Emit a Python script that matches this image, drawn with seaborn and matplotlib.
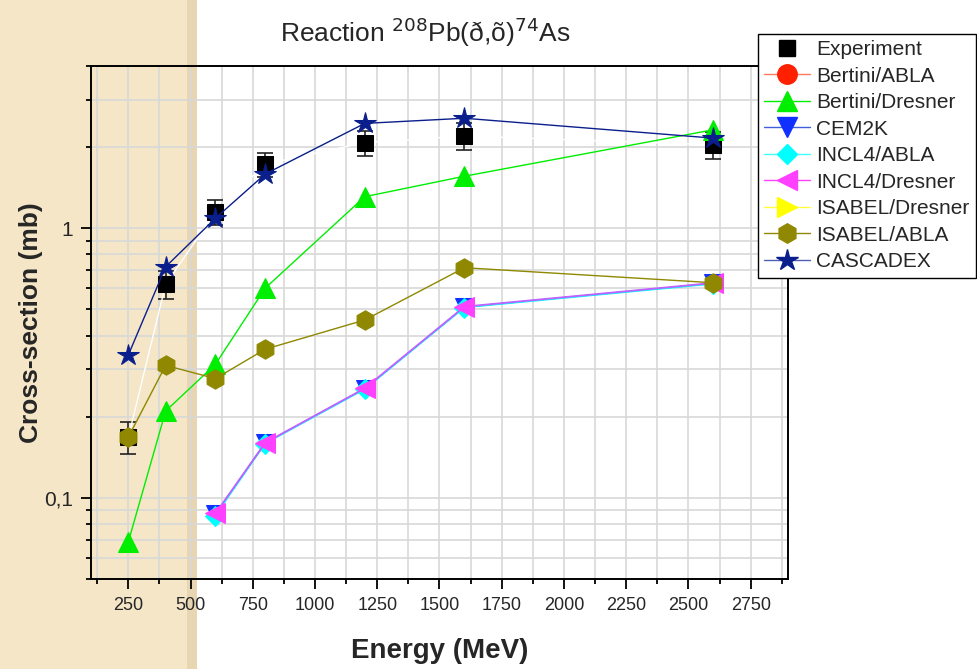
import numpy as np
import pandas as pd
import matplotlib
matplotlib.use("Agg")
import matplotlib.pyplot as plt
import seaborn as sns
from matplotlib.lines import Line2D
from matplotlib.patches import Rectangle
from matplotlib.ticker import FixedLocator, NullFormatter, FuncFormatter

# ---------------- data ----------------
energy = [250, 400, 600, 800, 1200, 1600, 2600]
exp_val = [0.168, 0.62, 1.15, 1.73, 2.08, 2.20, 2.04]
exp_err = [0.023, 0.074, 0.12, 0.18, 0.22, 0.25, 0.24]
cascadex = [0.339, 0.72, 1.09, 1.59, 2.45, 2.56, 2.16]
bertini_dresner = [0.0687, 0.21, 0.313, 0.60, 1.31, 1.56, 2.32]
isabel_abla = [0.168, 0.31, 0.277, 0.356, 0.457, 0.714, 0.628]

energy_hi = [600, 800, 1200, 1600, 2600]
cem2k = [0.087, 0.160, 0.254, 0.510, 0.625]
incl4_abla = [0.086, 0.159, 0.253, 0.508, 0.622]
incl4_dresner = [0.0875, 0.160, 0.255, 0.512, 0.627]

x_ticks = [250, 500, 750, 1000, 1250, 1500, 1750, 2000, 2250, 2500, 2750]
y_ticks = [0.1, 1]
y_tick_labels = ["0,1", "1"]

legend_labels = ["Experiment", "Bertini/ABLA", "Bertini/Dresner", "CEM2K",
                 "INCL4/ABLA", "INCL4/Dresner", "ISABEL/Dresner",
                 "ISABEL/ABLA", "CASCADEX"]

# ---------------- style ----------------
sns.set_style("white")
plt.rcParams["font.family"] = ["Liberation Sans", "DejaVu Sans"]

fig = plt.figure(figsize=(9.78, 6.69), dpi=100, facecolor="white")

# left tan background strip (slide background)
fig.patches.append(Rectangle((0, 0), 187 / 978, 1, transform=fig.transFigure,
                             facecolor="#f5e6c8", edgecolor="none", zorder=-10))
fig.patches.append(Rectangle((187 / 978, 0), 10 / 978, 1, transform=fig.transFigure,
                             facecolor="#e8d6b3", edgecolor="none", zorder=-10))

ax = fig.add_axes([91 / 978, 1 - 579 / 669, (788 - 91) / 978, (579 - 66) / 669])
ax.set_facecolor("none")

ax.set_yscale("log")
ax.set_xlim(100, 2900)
ax.set_ylim(0.05, 4)

# grid
minor_y = [v * 10.0 ** d for d in (-2, -1, 0) for v in range(2, 10)]
minor_y = [v for v in minor_y if 0.05 <= v <= 4]
ax.xaxis.set_major_locator(FixedLocator(x_ticks))
ax.xaxis.set_minor_locator(FixedLocator([125 + 250 * k for k in range(12)]))
ax.yaxis.set_major_locator(FixedLocator(y_ticks))
ax.yaxis.set_minor_locator(FixedLocator(minor_y))
ax.yaxis.set_major_formatter(FuncFormatter(lambda v, p: y_tick_labels[y_ticks.index(v)] if v in y_ticks else ""))
ax.yaxis.set_minor_formatter(NullFormatter())
ax.grid(True, which="both", color="#d8d8d8", linewidth=1.2, zorder=0)
ax.set_axisbelow(True)

for s in ax.spines.values():
    s.set_color("black")
    s.set_linewidth(1.4)

ax.tick_params(axis="both", which="major", direction="out", length=7, width=1.3,
               color="black", pad=6)
ax.tick_params(axis="both", which="minor", direction="out", length=3.5, width=1.3,
               color="black")
ax.tick_params(axis="x", which="both", bottom=True, top=False, labelsize=13)
ax.tick_params(axis="y", which="both", left=True, right=False, labelsize=15)

# ---------------- series ----------------
df_exp = pd.DataFrame({"E": energy, "v": exp_val})
ax.errorbar(energy, exp_val, yerr=exp_err, fmt="none", ecolor="#222222",
            elinewidth=1.2, capsize=6, capthick=1.2, zorder=3)
sns.lineplot(data=df_exp, x="E", y="v", ax=ax, color="white", linewidth=1.0,
             marker="s", markersize=11, markerfacecolor="black",
             markeredgecolor="black", zorder=4)

sns.lineplot(x=energy, y=bertini_dresner, ax=ax, color="#00ee00", linewidth=1.0,
             marker="^", markersize=14, markerfacecolor="#00ee00",
             markeredgecolor="#00ee00", zorder=5)
sns.lineplot(x=energy_hi, y=cem2k, ax=ax, color="#2040ff", linewidth=1.0,
             marker="v", markersize=13, markerfacecolor="#1030ff",
             markeredgecolor="#1030ff", zorder=6)
sns.lineplot(x=energy_hi, y=incl4_abla, ax=ax, color="#00ffff", linewidth=1.0,
             marker="D", markersize=10, markerfacecolor="#00ffff",
             markeredgecolor="#00ffff", zorder=7)
sns.lineplot(x=energy_hi, y=incl4_dresner, ax=ax, color="#c060ff", linewidth=1.3,
             marker="<", markersize=14, markerfacecolor="#ff40ff",
             markeredgecolor="#ff40ff", zorder=8)
sns.lineplot(x=energy, y=isabel_abla, ax=ax, color="#8f8800", linewidth=1.0,
             marker="h", markersize=14, markerfacecolor="#8f8800",
             markeredgecolor="#8f8800", zorder=9)
sns.lineplot(x=energy, y=cascadex, ax=ax, color="#0a1e8c", linewidth=1.0,
             marker="*", markersize=16, markerfacecolor="#0a1e8c",
             markeredgecolor="#0a1e8c", zorder=10)

ax.set_xlabel("Energy (MeV)", fontsize=20, fontweight="bold", labelpad=17)
ax.set_ylabel("Cross-section (mb)", fontsize=19, fontweight="bold", labelpad=1)

fig.text(425 / 978, 1 - 32 / 669, r"Reaction $^{208}$Pb(ð,õ)$^{74}$As",
         ha="center", va="center", fontsize=19)

# ---------------- legend ----------------
handles = [
    Line2D([], [], linestyle="none", marker="s", markersize=11, color="black"),
    Line2D([], [], color="#ff7a5a", lw=1.0, marker="o", markersize=14,
           markerfacecolor="#ff2000", markeredgecolor="#ff2000"),
    Line2D([], [], color="#00ee00", lw=1.0, marker="^", markersize=14,
           markerfacecolor="#00ee00", markeredgecolor="#00ee00"),
    Line2D([], [], color="#4060e0", lw=1.0, marker="v", markersize=14,
           markerfacecolor="#1030ff", markeredgecolor="#1030ff"),
    Line2D([], [], color="#40ffff", lw=1.0, marker="D", markersize=10,
           markerfacecolor="#00ffff", markeredgecolor="#00ffff"),
    Line2D([], [], color="#ff40ff", lw=1.0, marker="<", markersize=14,
           markerfacecolor="#ff40ff", markeredgecolor="#ff40ff"),
    Line2D([], [], color="#ffff40", lw=1.0, marker=">", markersize=14,
           markerfacecolor="#ffff00", markeredgecolor="#ffff00"),
    Line2D([], [], color="#8f8800", lw=1.0, marker="h", markersize=14,
           markerfacecolor="#8f8800", markeredgecolor="#8f8800"),
    Line2D([], [], color="#5060b0", lw=1.0, marker="*", markersize=16,
           markerfacecolor="#0a1e8c", markeredgecolor="#0a1e8c"),
]
leg = fig.legend(handles, legend_labels, loc="upper left",
                 bbox_to_anchor=(758 / 978, 1 - 34 / 669),
                 frameon=True, fancybox=False, framealpha=1, edgecolor="black",
                 fontsize=15, handlelength=2.2, handletextpad=0.3,
                 labelspacing=0.36, borderpad=0.3, borderaxespad=0)
leg.get_frame().set_linewidth(1.0)

fig.savefig("out.png", dpi=100, facecolor="white")
